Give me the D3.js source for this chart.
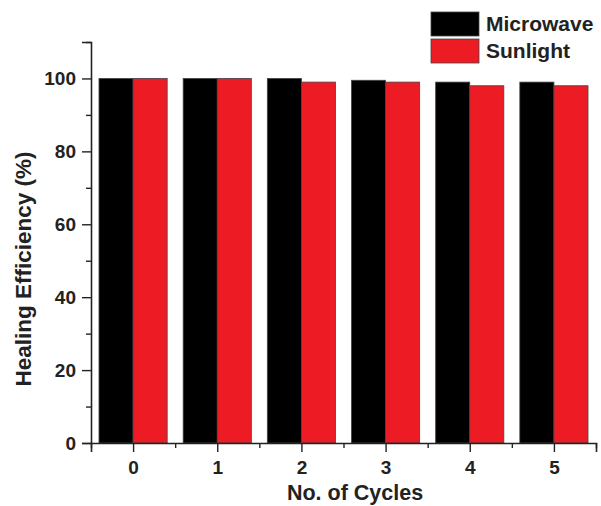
<!DOCTYPE html>
<html>
<head>
<meta charset="utf-8">
<script src="https://cdn.jsdelivr.net/npm/d3@7"></script>
<style>
body{margin:0;background:#fff;}
text{font-family:"Liberation Sans",Arial,sans-serif;font-weight:bold;fill:#222;}
</style>
</head>
<body>
<script>
var cycles=["0","1","2","3","4","5"];
var seriesNames=["Microwave","Sunlight"];
var microwave=[100,100,100,99.5,99,99];
var sunlight=[100,100,99,99,98,98];
var yTicks=[0,20,40,60,80,100];
var colors=["#000000","#ed1c24"];

var W=601,H=506;
var svg=d3.select("body").append("svg").attr("width",W).attr("height",H);

var mLeft=91,mRight=596,mTop=42,mBottom=443;

var x=d3.scaleBand().domain(cycles).range([mLeft,mRight]).paddingInner(0.19).paddingOuter(0.095);
var xs=d3.scaleBand().domain(seriesNames).range([0,x.bandwidth()]);
var y=d3.scaleLinear().domain([0,110]).range([mBottom,mTop]);

var rows=cycles.map(function(c,i){return {cycle:c,values:[microwave[i],sunlight[i]]};});

var g=svg.selectAll("g.grp").data(rows).enter().append("g").attr("class","grp")
  .attr("transform",function(d){return "translate("+x(d.cycle)+",0)";});
g.selectAll("rect").data(function(d){return d.values.map(function(v,k){return {name:seriesNames[k],v:v,k:k};});})
  .enter().append("rect")
  .attr("x",function(d){return xs(d.name);})
  .attr("y",function(d){return y(d.v);})
  .attr("width",xs.bandwidth())
  .attr("height",function(d){return mBottom-y(d.v);})
  .style("fill",function(d){return colors[d.k];})
  .style("stroke","#444").style("stroke-width",0.8);

// y axis
svg.append("g").attr("transform","translate("+mLeft+",0)")
  .call(d3.axisLeft(y).tickValues(yTicks).tickSize(9).tickPadding(6));
svg.append("g").attr("transform","translate("+mLeft+",0)")
  .call(d3.axisLeft(y).tickValues(d3.range(10,111,20)).tickSize(5).tickFormat(""))
  .select(".domain").remove();

// x axis
var xl=d3.scaleLinear().domain([-0.5,5.5]).range([mLeft,mRight]);
svg.append("g").attr("transform","translate(0,"+mBottom+")")
  .call(d3.axisBottom(xl).tickValues(d3.range(0,6)).tickSize(9).tickPadding(9).tickFormat(d3.format("d")));
svg.append("g").attr("transform","translate(0,"+mBottom+")")
  .call(d3.axisBottom(xl).tickValues(d3.range(-0.5,5.6,1)).tickSize(5).tickFormat(""))
  .select(".domain").remove();

svg.selectAll(".domain").attr("stroke","#222").attr("stroke-width",1.6);
svg.selectAll(".tick line").attr("stroke","#222").attr("stroke-width",1.4);
svg.selectAll(".tick text").style("font-size","19px").style("font-weight","bold").attr("fill","#222")
  .style("font-family","'Liberation Sans',Arial,sans-serif");

// titles
svg.append("text").attr("x",355).attr("y",500).attr("text-anchor","middle")
  .style("font-size","21.5px").text("No. of Cycles");
svg.append("text").attr("transform","translate(31,269) rotate(-90)").attr("text-anchor","middle")
  .style("font-size","22.5px").text("Healing Efficiency (%)");

// legend
var lg=svg.append("g").attr("transform","translate(431,12)");
seriesNames.forEach(function(n,i){
  lg.append("rect").attr("x",0).attr("y",i*27).attr("width",48).attr("height",24)
    .style("fill",colors[i]).style("stroke","#444").style("stroke-width",0.8);
  lg.append("text").attr("x",55).attr("y",i*27+19).style("font-size","21px").text(n);
});
</script>
</body>
</html>
